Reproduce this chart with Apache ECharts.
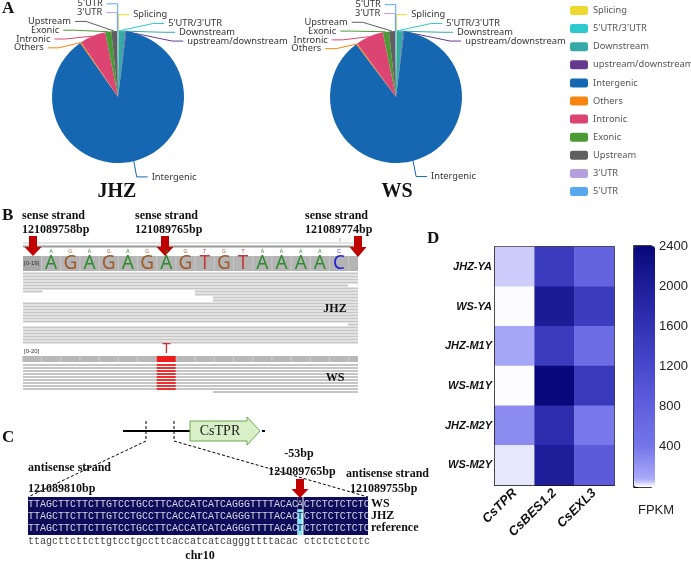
<!DOCTYPE html>
<html><head><meta charset="utf-8">
<script src="https://cdn.jsdelivr.net/npm/echarts@6/dist/echarts.min.js"></script>
<style>html,body{margin:0;padding:0;background:#fff}#c{width:691px;height:561px}</style>
</head><body><div id="c"></div>
<script>
// ---------- data ----------
const categories = ['Splicing', "5'UTR/3'UTR", 'Downstream', 'upstream/downstream', 'Intergenic', 'Others', 'Intronic', 'Exonic', 'Upstream', "3'UTR", "5'UTR"];
const jhzValues = [0.1, 0.1, 1.6, 0.2, 88.3, 0.3, 6.3, 1.5, 1.4, 0.1, 0.1];
const wsValues  = [0.1, 0.1, 1.6, 0.2, 87.7, 0.3, 6.8, 1.5, 1.5, 0.1, 0.1];
const sliceColors = ['#ecd932', '#2ec8cf', '#35aaa6', '#633a8e', '#1467b0', '#f5850f', '#dc4572', '#4a9a35', '#5f5f5f', '#b59fdd', '#56a8ec'];

const samples = ['JHZ-YA', 'WS-YA', 'JHZ-M1Y', 'WS-M1Y', 'JHZ-M2Y', 'WS-M2Y'];
const genes = ['CsTPR', 'CsBES1.2', 'CsEXL3'];
const fpkmCsTPR   = [47, 3, 110, 2, 277, 24];
const fpkmCsBES12 = [1450, 2070, 1450, 2400, 1720, 2000];
const fpkmCsEXL3  = [730, 1420, 580, 1480, 390, 870];
const colorbarTicks = [400, 800, 1200, 1600, 2000, 2400];

const refBases = 'AGAGAGAGTGTAAAAC';
const seqLeft = 'TTAGCTTCTTCTTGTCCTGCCTTCACCATCATCAGGGTTTTACAC';
const seqRight = 'CTCTCTCTCTC';
const alignRows = ['WS', 'JHZ', 'reference'];
const snpBases = ['A', 'T', 'T'];

// ---------- helpers ----------
const serif = '"Liberation Serif", "Times New Roman", serif';
const sans = '"Liberation Sans", Arial, sans-serif';
const mono = '"Liberation Mono", "Courier New", monospace';
const G = [];
function T(x, y, text, o) {
  G.push({ type: 'text', x: x, y: y, silent: true, z: 5,
    style: Object.assign({ text: text, fill: '#111', font: 'bold 12px ' + serif, align: 'left', verticalAlign: 'middle' }, o || {}) });
}
function R(x, y, w, h, fill, o) {
  G.push({ type: 'rect', silent: true, z: (o && o.z) || 1, shape: { x: x, y: y, width: w, height: h }, style: { fill: fill } });
}
function L(x1, y1, x2, y2, stroke, w, dash) {
  G.push({ type: 'line', silent: true, z: 2, shape: { x1: x1, y1: y1, x2: x2, y2: y2 }, style: { stroke: stroke, lineWidth: w || 1, lineDash: dash || null } });
}
function P(points, fill, stroke) {
  G.push({ type: 'polygon', silent: true, z: 4, shape: { points: points }, style: { fill: fill, stroke: stroke || null, lineWidth: 1 } });
}
function downArrow(cx, y0, y1, y2) {
  P([[cx - 4, y0], [cx + 4, y0], [cx + 4, y1], [cx + 8.5, y1], [cx, y2], [cx - 8.5, y1], [cx - 4, y1]], '#c00000');
}

// ---------- panel letters ----------
T(2, 9, 'A', { font: 'bold 17px ' + serif });
T(2, 216, 'B', { font: 'bold 17px ' + serif });
T(2, 438, 'C', { font: 'bold 17px ' + serif });
T(427, 239, 'D', { font: 'bold 17px ' + serif });
T(117, 192, 'JHZ', { font: 'bold 20px ' + serif, align: 'center' });
T(397, 192, 'WS', { font: 'bold 20px ' + serif, align: 'center' });

// ---------- panel B (IGV view) ----------
const bx = u => 41.5 + 19.2 * u;
const X0 = 23, X1 = 358;
const uL = (X0 - 41.5) / 19.2, uR = (X1 - 41.5) / 19.2;
T(22, 216, 'sense strand'); T(22, 230, '121089758bp');
T(135, 216, 'sense strand'); T(135, 230, '121089765bp');
T(305, 216, 'sense strand'); T(305, 230, '121089774bp');
L(X0, 243, X1, 243, '#c8c8c8', 1);
L(X0, 246.5, X1, 246.5, '#9a9a9a', 2);
L(340, 238, 340, 242, '#bbbbbb', 1);
const baseColor = { A: '#2e8b2e', G: '#a05a2c', T: '#c83a3a', C: '#2222dd' };
R(X0, 256, X1 - X0, 15, '#b4b4b4');
R(X0, 256, 18.5, 15, '#a8a8a8');
T(24, 263.5, '[0-19]', { font: '6px ' + sans, fill: '#333' });
for (let i = 0; i < refBases.length; i++) {
  const b = refBases[i];
  L(bx(i), 256, bx(i), 271, '#c8c8c8', 1);
  T(bx(i) + 9.6, 264, b, { font: '19px "Noto Sans", ' + sans, fill: baseColor[b], align: 'center' });
  T(bx(i) + 9.6, 251.5, b, { font: '5px ' + sans, fill: baseColor[b], align: 'center' });
}
L(bx(16), 256, bx(16), 271, '#c8c8c8', 1);
// JHZ reads: [row, [startBase, endBase], ...]
const F = [uL, uR];
const jhzReads = [
  [0, F], [1, F], [2, F], [3, F], [4, [uL, 15.96]], [5, F],
  [6, [uL, 0.05], [7.99, uR]], [7, [7.99, uR]], [8, [8.93, uR]], [9, [8.93, uR]],
  [10, F], [11, F], [12, F], [13, F], [14, F], [15, F], [16, F],
  [17, [15.96, uR]], [18, F], [19, F], [20, F], [21, F], [22, F], [23, F]
];
jhzReads.forEach(r => {
  for (let k = 1; k < r.length; k++) {
    const s = r[k];
    R(bx(s[0]), 272.5 + 3 * r[0], bx(s[1]) - bx(s[0]), 2, '#c6c6c6');
  }
});
T(335, 309, 'JHZ', { align: 'center' });
// WS track
T(24, 351, '[0-20]', { font: '6px ' + sans, fill: '#333' });
R(X0, 356, X1 - X0, 6, '#b8b8b8');
for (let i = -1; i <= 16; i++) L(bx(i), 356, bx(i), 362, '#d0d0d0', 1);
R(bx(6), 356, 19, 6, '#ee1c1c', { z: 3 });
T(bx(6) + 9.6, 348.5, 'T', { font: '15px "Noto Sans", ' + sans, fill: '#c83232', align: 'center' });
for (let k = 0; k < 9; k++) {
  R(X0, 364 + 3 * k, X1 - X0, 2, '#c6c6c6');
  R(bx(6), 364 + 3 * k, 19, 2, '#e83232', { z: 3 });
}
R(bx(8.93), 391, X1 - bx(8.93), 2, '#c6c6c6');
T(335, 378, 'WS', { align: 'center' });
downArrow(33, 236, 247, 256);
downArrow(165, 236, 247, 256);
downArrow(358, 236, 247, 257);

// ---------- panel C ----------
L(123, 431, 190, 431, '#000', 2);
L(146, 421, 146, 441, '#000', 1, [3, 2]);
L(174, 421, 174, 441, '#000', 1, [3, 2]);
P([[190, 421], [247, 421], [247, 417], [260, 431], [247, 445], [247, 441], [190, 441]], '#d8efc8', '#6aa84f');
T(220, 431, 'CsTPR', { font: '14px ' + serif, fill: '#222', align: 'center' });
L(262, 431, 265, 431, '#000', 2);
L(146, 441, 28, 497, '#000', 1, [3, 2]);
L(174, 441, 368, 497, '#000', 1, [3, 2]);
T(28, 468, 'antisense strand'); T(28, 489, '121089810bp');
T(299, 454, '-53bp', { align: 'center' });
T(302, 472, '121089765bp', { align: 'center' });
T(346, 474, 'antisense strand'); T(350, 489, '121089755bp');
downArrow(300, 479, 489, 498);
R(28, 497, 269.5, 38, '#0c0c5a');
R(297.5, 497, 5, 12.5, '#0c0c5a');
R(297.5, 509.5, 5, 25.5, '#86e6f2');
R(303.5, 497, 64.5, 38, '#0c0c5a');
alignRows.forEach((name, r) => {
  const y = 504 + 12 * r;
  T(28, y, seqLeft, { font: '10px ' + mono, fill: '#d4d4e4' });
  T(300, y, snpBases[r], { font: '10px ' + mono, fill: r === 0 ? '#b8b8d0' : '#0c0c5a', align: 'center' });
  T(303.8, y, seqRight, { font: '10px ' + mono, fill: '#d4d4e4' });
  T(371, y, name);
});
T(28, 541, seqLeft.toLowerCase() + ' ' + seqRight.toLowerCase(), { font: '10px ' + mono, fill: '#444' });
T(200, 556, 'chr10', { align: 'center' });

// ---------- panel D colorbar title ----------
T(656, 510, 'FPKM', { font: '13px ' + sans, fill: '#222', align: 'center' });

// ---------- colour scale ----------
const anchors = [[0, '#ffffff'], [80, '#aaaaf8'], [400, '#7676ea'], [800, '#6060de'], [1200, '#4848cc'], [1600, '#3232b4'], [2000, '#1e1e9a'], [2400, '#08087a']];
function hex(c) { return [parseInt(c.slice(1, 3), 16), parseInt(c.slice(3, 5), 16), parseInt(c.slice(5, 7), 16)]; }
function colAt(v) {
  for (let i = 1; i < anchors.length; i++) {
    if (v <= anchors[i][0]) {
      const a = hex(anchors[i - 1][1]), b = hex(anchors[i][1]);
      const t = (v - anchors[i - 1][0]) / (anchors[i][0] - anchors[i - 1][0]);
      return 'rgb(' + a.map((x, j) => Math.round(x + (b[j] - x) * t)).join(',') + ')';
    }
  }
  return anchors[anchors.length - 1][1];
}
const scaleColors = [];
for (let v = 0; v <= 2400; v += 20) scaleColors.push(colAt(v));

const heatData = [];
[fpkmCsTPR, fpkmCsBES12, fpkmCsEXL3].forEach((arr, gi) => arr.forEach((v, si) => heatData.push([gi, si, v])));

// ---------- pie label layout (stacked labels beside the pie top) ----------
const R_PIE = 66, LEN1 = 12, LEN2 = 11, GAP = 4, LBL_H = 8.8, PIE_CY = 97;
function stack(list) {
  const H = LBL_H, top = 0, bottom = 561;
  function shiftUp(end, delta) {
    for (let j = end; j >= 0; j--) {
      if (list[j].y - delta < top) break;
      list[j].y -= delta;
      if (j > 0 && list[j].y > list[j - 1].y + H) break;
    }
  }
  function shiftDown(start, end, delta) {
    for (let j = start; j < end; j++) {
      if (list[j].y + delta > bottom) break;
      list[j].y += delta;
      if (j > start && j + 1 < end && list[j + 1].y > list[j].y + H) { shiftUp(j, delta / 2); return; }
    }
    shiftUp(end - 1, delta / 2);
  }
  let lastY = 0;
  for (let i = 0; i < list.length; i++) {
    const d = list[i].y - lastY;
    if (d < 0) shiftDown(i, list.length, -d);
    lastY = list[i].y + H;
  }
}
function changeX(list, isDown, cy) {
  let last = isDown ? Infinity : 0;
  const RR = R_PIE + LEN1;
  list.forEach(it => {
    const dy = Math.abs(it.y - cy);
    let dx = dy < RR ? Math.sqrt((RR + LEN2) * (RR + LEN2) - dy * dy) : it.natDX;
    if (isDown && dx >= last) dx = last - 10;
    if (!isDown && dx <= last) dx = last + 10;
    it.dx = dx; last = dx;
  });
}
function planLabels(values, cx, cy) {
  const total = values.reduce((a, b) => a + b, 0);
  let acc = 0;
  const items = values.map((v, i) => {
    const mid = (acc + v / 2) / total * 2 * Math.PI; acc += v;
    const s = Math.sin(mid), c = Math.cos(mid);
    const px = cx + (R_PIE + LEN1) * s, py = cy - (R_PIE + LEN1) * c;
    return { i: i, dir: px < cx ? -1 : 1, ex: cx + R_PIE * s, ey: cy - R_PIE * c, natDX: Math.abs(px - cx) + LEN2 + GAP, y: py };
  });
  const out = [];
  [-1, 1].forEach(dir => {
    const list = items.filter(it => it.dir === dir).sort((a, b) => a.y - b.y);
    if (dir === 1) list.unshift({ i: -1, dir: 1, y: list[0].y - 0.01, natDX: 0 }); // reserved top slot
    stack(list);
    changeX(list.filter(it => it.y < cy), false, cy);
    changeX(list.filter(it => it.y >= cy), true, cy);
    list.forEach(it => { if (it.i >= 0) out[it.i] = it; });
  });
  return out;
}

function pieSeries(values, cx) {
  const plan = planLabels(values, cx, PIE_CY);
  return {
    type: 'pie', center: [cx, PIE_CY], radius: R_PIE, startAngle: 90, animation: false,
    data: categories.map((n, i) => ({ name: n, value: values[i], itemStyle: { color: sliceColors[i] } })),
    label: { fontSize: 9.3, fontFamily: '"Noto Sans", sans-serif', overflow: 'none' },
    labelLine: { length: LEN1, length2: LEN2, lineStyle: { width: 1 } },
    labelLayout: function (p) {
      const it = plan[p.dataIndex];
      const tx = cx + it.dir * it.dx;
      const endX = tx - it.dir * GAP, bendX = endX - it.dir * LEN2;
      return { x: tx, y: it.y, align: it.dir < 0 ? 'right' : 'left', verticalAlign: 'middle',
        labelLinePoints: [[it.ex, it.ey], [bendX, it.y], [endX, it.y]] };
    },
    emphasis: { disabled: true }
  };
}

const chart = echarts.init(document.getElementById('c'));
chart.setOption({
  animation: false,
  legend: {
    data: categories, orient: 'vertical', left: 565, top: 0, itemWidth: 18, itemHeight: 9, itemGap: 7.1,
    icon: 'roundRect', selectedMode: false,
    textStyle: { fontSize: 9.3, color: '#555', fontFamily: '"Noto Sans", sans-serif', lineHeight: 11 }
  },
  grid: [
    { left: 495, top: 247, width: 119, height: 238, show: true, borderColor: '#000', borderWidth: 1.5, backgroundColor: 'transparent' },
    { left: 634, top: 246, width: 21, height: 241, show: true, borderColor: '#000', borderWidth: 1.5, backgroundColor: 'transparent' }
  ],
  xAxis: [
    { type: 'category', gridIndex: 0, data: genes, axisLine: { lineStyle: { color: '#000', width: 1.5 } },
      axisTick: { alignWithLabel: true, length: 5, lineStyle: { color: '#000' } },
      axisLabel: { rotate: 45, fontSize: 13, fontWeight: 'bold', fontStyle: 'italic', color: '#111', fontFamily: sans, margin: 6 } },
    { type: 'value', gridIndex: 1, show: false, min: 0, max: 1 }
  ],
  yAxis: [
    { type: 'category', gridIndex: 0, data: samples, inverse: true, axisLine: { lineStyle: { color: '#000', width: 1.5 } },
      axisTick: { alignWithLabel: true, length: 5, lineStyle: { color: '#000' } },
      axisLabel: { fontSize: 11, fontWeight: 'bold', fontStyle: 'italic', color: '#111', fontFamily: sans, margin: 3 } },
    { type: 'value', gridIndex: 1, position: 'right', min: 0, max: 2400, interval: 400,
      axisLine: { show: false }, splitLine: { show: false },
      axisTick: { show: true, length: 4, lineStyle: { color: '#000' } },
      axisLabel: { fontSize: 13, color: '#222', fontFamily: sans, margin: 8, formatter: v => (colorbarTicks.indexOf(v) >= 0 ? String(v) : '') } }
  ],
  visualMap: {
    type: 'continuous', min: 0, max: 2400, seriesIndex: 2, calculable: false, show: true,
    left: 634, top: 246, itemWidth: 21, itemHeight: 241, padding: 0, text: null, showLabel: false,
    inRange: { color: scaleColors }
  },
  series: [
    pieSeries(jhzValues, 118),
    pieSeries(wsValues, 396),
    { type: 'heatmap', xAxisIndex: 0, yAxisIndex: 0, data: heatData, emphasis: { disabled: true } }
  ],
  graphic: G
});
</script></body></html>
